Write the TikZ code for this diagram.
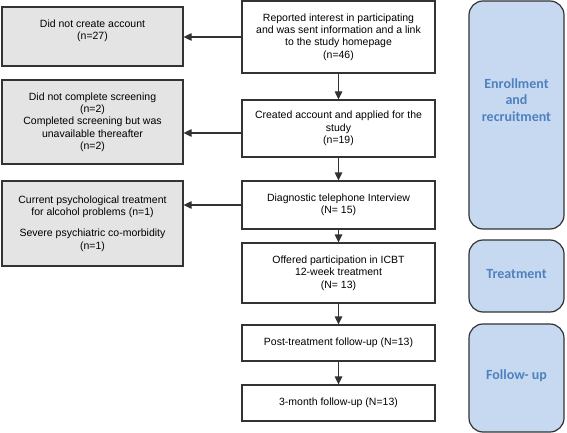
\documentclass[tikz,border=0pt]{standalone}
\usepackage{fontspec}
\setmainfont{Liberation Sans}
\newfontfamily\labfont{Carlito}
\usetikzlibrary{arrows.meta}
\definecolor{grayfill}{HTML}{E4E4E4}
\definecolor{bluefill}{HTML}{C6D9F1}
\definecolor{bluetext}{HTML}{4F81BD}
\definecolor{edge}{HTML}{333333}
\tikzset{
  flowbox/.style={draw=edge, line width=1.2pt, fill=white, align=center, inner sep=2pt,
    font=\fontsize{10.5}{12.3}\selectfont},
  exclbox/.style={flowbox, fill=grayfill},
  phasebox/.style={draw=edge, line width=1.2pt, fill=bluefill, rounded corners=14pt},
  phaselabel/.style={align=center, text=bluetext, font=\labfont\bfseries\fontsize{14}{16.7}\selectfont},
  arr/.style={draw=edge, line width=1.2pt, -{Triangle[length=8pt,width=7.5pt]}}
}
\begin{document}
\begin{tikzpicture}[x=1pt,y=-1pt]
\useasboundingbox (0,0) rectangle (567,433);
% center column
\node[flowbox, minimum width=193pt, minimum height=72pt] (c1) at (338.5,37)
  {Reported interest in participating\\and was sent information and a link\\to the study homepage\\(n=46)};
\node[flowbox, minimum width=193pt, minimum height=57pt] (c2) at (338.5,128.5)
  {Created account and applied for the\\study\\(n=19)};
\node[flowbox, minimum width=193pt, minimum height=48pt] (c3) at (338.5,205)
  {Diagnostic telephone Interview\\(N= 15)};
\node[flowbox, minimum width=193pt, minimum height=60pt] (c4) at (338.5,273)
  {Offered participation in ICBT\\12-week treatment\\(N= 13)};
\node[flowbox, minimum width=193pt, minimum height=36pt] (c5) at (338.5,343)
  {Post-treatment follow-up (N=13)};
\node[flowbox, minimum width=193pt, minimum height=36pt] (c6) at (338.5,403)
  {3-month follow-up (N=13)};
% left column
\node[exclbox, minimum width=181pt, minimum height=59pt] (l1) at (92.5,36.5)
  {Did not create account\\(n=27)\\[2pt]};
\node[exclbox, minimum width=181pt, minimum height=84pt] (l2) at (92.5,122)
  {Did not complete screening\\(n=2)\\Completed screening but was\\unavailable thereafter\\(n=2)};
\node[exclbox, minimum width=181pt, minimum height=85pt] (l3) at (92.5,223.5)
  {Current psychological treatment\\for alcohol problems (n=1)\\[9pt]Severe psychiatric co-morbidity\\(n=1)};
% right column
\node[phasebox, minimum width=95pt, minimum height=228pt] (r1) at (516.5,115) {};
\node[phaselabel] (t1) at (516.5,100) {Enrollment\\and\\recruitment};
\node[phasebox, minimum width=95pt, minimum height=72pt] (r2) at (516.5,276) {};
\node[phaselabel] (t2) at (516.5,274) {Treatment};
\node[phasebox, minimum width=95pt, minimum height=108pt] (r3) at (516.5,378) {};
\node[phaselabel] (t3) at (516.5,376) {Follow- up};
% vertical arrows
\draw[arr] (c1.south) -- (c2.north);
\draw[arr] (c2.south) -- (c3.north);
\draw[arr] (c3.south) -- (c4.north);
\draw[arr] (c4.south) -- (c5.north);
\draw[arr] (c5.south) -- (c6.north);
% exclusion arrows
\draw[arr] (c1.west) -- (c1.west -| l1.east);
\coordinate (a2) at ([yshift=-4.5pt]c2.west);
\draw[arr] (a2) -- (a2 -| l2.east);
\draw[arr] (c3.west) -- (c3.west -| l3.east);
\end{tikzpicture}
\end{document}
